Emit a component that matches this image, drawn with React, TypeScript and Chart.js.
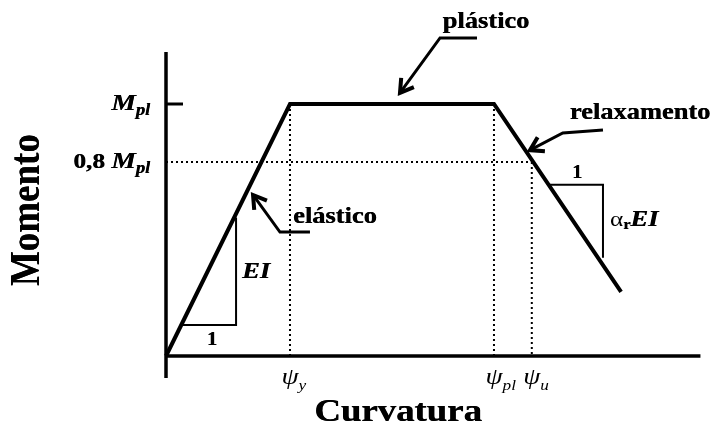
import React, { useEffect, useRef } from "react";
import { Chart, registerables } from "chart.js";

Chart.register(...registerables);

// ---- data (curvature ψ in units of ψ_y, moment in units of M_pl) ----
const curvature = [0, 1.0, 2.645, 3.67];
const moment = [0, 1.0, 1.0, 0.254];

const psiTicks = [1.0, 2.645, 2.95];
const psiSubs = ["y", "pl", "u"];

const momentTicks = [1.0, 0.77];
const momentPrefixes = ["", "0,8"];

const axisX = [0, 4.31];
const axisY = [-0.087, 1.206];
const mplTickEnd = 0.137;

const elasticTriX = [0.123, 0.565, 0.565];
const elasticTriY = [0.123, 0.123, 0.55];
const relaxTriX = [3.085, 3.524, 3.524];
const relaxTriY = [0.68, 0.68, 0.39];

const arrowPlasticoX = [2.508, 2.21, 1.887];
const arrowPlasticoY = [1.262, 1.262, 1.044];
const arrowRelaxX = [3.524, 3.2, 2.935];
const arrowRelaxY = [0.897, 0.885, 0.817];
const arrowElasticX = [1.161, 0.919, 0.702];
const arrowElasticY = [0.492, 0.492, 0.639];

const labelTexts = ["plástico", "relaxamento", "elástico"];
const labelX = [2.58, 3.823, 1.024];
const labelY = [1.325, 0.964, 0.552];

const pts = (xs: number[], ys: number[]) => xs.map((x, i) => ({ x, y: ys[i] }));

const SX = 1.15;
const SERIF = '"Liberation Serif", serif';

type Run = { t: string; font: string; dy?: number };

function drawRuns(ctx: CanvasRenderingContext2D, runs: Run[], x: number, y: number, align: "left" | "right" | "center") {
  ctx.save();
  ctx.textBaseline = "middle";
  ctx.textAlign = "left";
  const widths = runs.map((r) => {
    ctx.font = r.font;
    return ctx.measureText(r.t).width * SX;
  });
  const total = widths.reduce((a, b) => a + b, 0);
  let cx = align === "left" ? x : align === "right" ? x - total : x - total / 2;
  runs.forEach((r, i) => {
    ctx.save();
    ctx.translate(cx, y + (r.dy || 0));
    ctx.scale(SX, 1);
    ctx.font = r.font;
    ctx.fillStyle = "#000";
    ctx.fillText(r.t, 0, 0);
    if (r.font.includes("bold")) ctx.fillText(r.t, 0.4, 0);
    ctx.restore();
    cx += widths[i];
  });
  ctx.restore();
}

const annotationPlugin = {
  id: "annotations",
  afterDatasetsDraw(chart: any) {
    const ctx: CanvasRenderingContext2D = chart.ctx;
    const xs = chart.scales.x;
    const ys = chart.scales.y;
    const px = (v: number) => xs.getPixelForValue(v);
    const py = (v: number) => ys.getPixelForValue(v);

    // arrowheads
    const arrows = [
      [arrowPlasticoX, arrowPlasticoY],
      [arrowRelaxX, arrowRelaxY],
      [arrowElasticX, arrowElasticY],
    ];
    arrows.forEach(([ax, ay]) => {
      const n = ax.length;
      const x1 = px(ax[n - 2]), y1 = py(ay[n - 2]);
      const x2 = px(ax[n - 1]), y2 = py(ay[n - 1]);
      const ang = Math.atan2(y2 - y1, x2 - x1);
      const L = 15, a = 0.55;
      ctx.save();
      ctx.strokeStyle = "#000";
      ctx.lineWidth = 4;
      ctx.lineCap = "butt";
      ctx.lineJoin = "miter";
      ctx.beginPath();
      ctx.moveTo(x2 - L * Math.cos(ang - a), y2 - L * Math.sin(ang - a));
      ctx.lineTo(x2, y2);
      ctx.lineTo(x2 - L * Math.cos(ang + a), y2 - L * Math.sin(ang + a));
      ctx.stroke();
      ctx.restore();
    });

    const bi = (s: number) => `italic bold ${s}px ${SERIF}`;
    const b = (s: number) => `bold ${s}px ${SERIF}`;
    const it = (s: number) => `italic ${s}px ${SERIF}`;

    // annotation words
    labelTexts.forEach((t, i) => {
      drawRuns(ctx, [{ t, font: b(23) }], px(labelX[i]), py(labelY[i]), i === 2 ? "left" : "center");
    });

    // slope labels
    drawRuns(ctx, [{ t: "EI", font: bi(23) }], px(0.726), py(0.333), "center");
    drawRuns(ctx, [{ t: "1", font: b(18) }], px(0.371), py(0.063), "center");
    drawRuns(ctx, [{ t: "1", font: b(18) }], px(3.315), py(0.726), "center");
    drawRuns(
      ctx,
      [
        { t: "α", font: `${22}px ${SERIF}` },
        { t: "r", font: b(14), dy: 5 },
        { t: "EI", font: bi(23) },
      ],
      px(3.58),
      py(0.54),
      "left"
    );

    // moment tick labels
    momentTicks.forEach((v, i) => {
      const runs: Run[] = [];
      if (momentPrefixes[i]) runs.push({ t: momentPrefixes[i] + " ", font: b(22) });
      runs.push({ t: "M", font: bi(24) });
      runs.push({ t: "pl", font: bi(16), dy: 7 });
      drawRuns(ctx, runs, px(-0.129), py(v), "right");
    });

    // curvature tick labels
    psiTicks.forEach((v, i) => {
      ctx.save();
      ctx.font = it(24);
      const w = ctx.measureText("ψ").width * SX;
      ctx.restore();
      drawRuns(
        ctx,
        [
          { t: "ψ", font: it(24) },
          { t: psiSubs[i], font: it(15), dy: 8 },
        ],
        px(v) - w / 2,
        py(-0.088),
        "left"
      );
    });

    // axis titles
    drawRuns(ctx, [{ t: "Curvatura", font: b(32) }], px(1.871), py(-0.226), "center");
    ctx.save();
    ctx.translate(px(-1.113), py(0.579));
    ctx.rotate(-Math.PI / 2);
    ctx.scale(1, 1.12);
    ctx.font = b(37);
    ctx.textAlign = "center";
    ctx.textBaseline = "middle";
    ctx.fillStyle = "#000";
    ctx.fillText("Momento", 0, 0);
    ctx.fillText("Momento", 0, 0.5);
    ctx.restore();
  },
};

const solid = (data: any[], width: number) => ({
  data,
  borderColor: "#000",
  borderWidth: width,
  showLine: true,
  pointRadius: 0,
  fill: false,
  tension: 0,
  borderJoinStyle: "miter" as const,
});
const dotted = (data: any[]) => ({
  data,
  borderColor: "#000",
  borderWidth: 2,
  borderDash: [2, 3],
  showLine: true,
  pointRadius: 0,
  fill: false,
  tension: 0,
});

export default function App() {
  const ref = useRef<HTMLCanvasElement>(null);
  useEffect(() => {
    document.body.style.margin = "0";
    const chart = new Chart(ref.current!, {
      type: "scatter",
      data: {
        datasets: [
          dotted(pts([0, psiTicks[2]], [momentTicks[1], momentTicks[1]])),
          dotted(pts([psiTicks[0], psiTicks[0]], [1, 0])),
          dotted(pts([psiTicks[1], psiTicks[1]], [1, 0])),
          dotted(pts([psiTicks[2], psiTicks[2]], [momentTicks[1], 0])),
          solid(pts([0, 0], axisY), 3.5),
          solid(pts(axisX, [0, 0]), 3.5),
          solid(pts([0, mplTickEnd], [1, 1]), 3),
          solid(pts(elasticTriX, elasticTriY), 2),
          solid(pts(relaxTriX, relaxTriY), 2),
          solid(pts(arrowPlasticoX, arrowPlasticoY), 3),
          solid(pts(arrowRelaxX, arrowRelaxY), 3),
          solid(pts(arrowElasticX, arrowElasticY), 3),
          solid(pts(curvature, moment), 4),
        ],
      },
      options: {
        responsive: false,
        animation: false,
        devicePixelRatio: 1,
        layout: { padding: 0 },
        plugins: { legend: { display: false }, tooltip: { enabled: false }, title: { display: false } },
        scales: {
          x: { type: "linear", display: false, min: -166 / 124, max: 550 / 124 },
          y: { type: "linear", display: false, min: -73 / 252, max: 356 / 252 },
        },
      },
      plugins: [annotationPlugin],
    });
    return () => chart.destroy();
  }, []);
  return (
    <div style={{ width: 716, height: 429, background: "#fff" }}>
      <canvas ref={ref} width={716} height={429} />
    </div>
  );
}
